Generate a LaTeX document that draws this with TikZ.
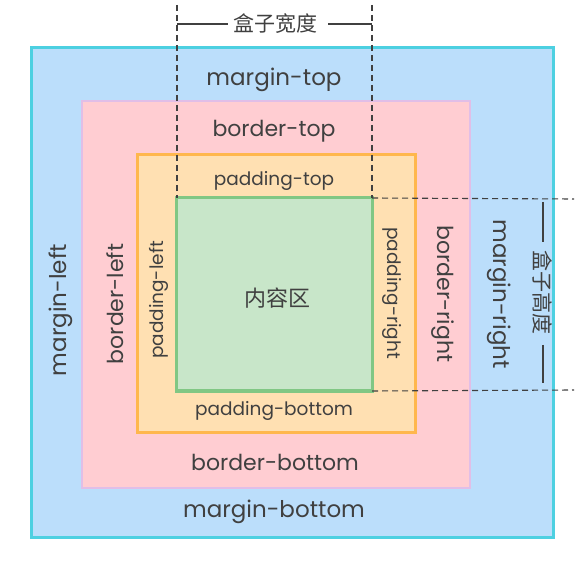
\documentclass[tikz,border=0pt]{standalone}
\usepackage{fontspec}
\setmainfont{Poppins}
\newfontfamily\cjk{Noto Sans CJK SC}
\definecolor{mBorder}{HTML}{4DD0E1}
\definecolor{mFill}{HTML}{BBDEFB}
\definecolor{bBorder}{HTML}{E1BEE7}
\definecolor{bFill}{HTML}{FFCDD2}
\definecolor{pBorder}{HTML}{FFB74D}
\definecolor{pFill}{HTML}{FFE0B2}
\definecolor{cBorder}{HTML}{81C784}
\definecolor{cFill}{HTML}{C8E6C9}
\definecolor{txt}{HTML}{404040}
\begin{document}
\begin{tikzpicture}[x=1pt,y=-1pt,
  layer/.style={anchor=north west, inner sep=0pt, outer sep=0pt, line width=3pt},
  lbl/.style={text=txt, inner sep=0pt},
  big/.style={lbl, font=\fontsize{23}{27}\selectfont},
  mid/.style={lbl, font=\fontsize{22}{26}\selectfont},
  small/.style={lbl, font=\fontsize{18.5}{22}\selectfont},
  cjklbl/.style={lbl, font=\cjk\fontsize{21}{25}\selectfont},
  cjkin/.style={lbl, font=\cjk\fontsize{22}{26}\selectfont},
  dimdash/.style={draw=txt, line width=1.1pt, dash pattern=on 6pt off 4pt},
  dimline/.style={draw=txt, line width=1.4pt}]
\useasboundingbox (0,0) rectangle (587,564);
% boxes
\node[layer, draw=mBorder, fill=mFill, minimum width=522pt, minimum height=489pt] (margin) at (31,48) {};
\node[layer, draw=bBorder, fill=bFill, minimum width=388pt, minimum height=387pt, line width=2.4pt] (border) at (82,101) {};
\node[layer, draw=pBorder, fill=pFill, minimum width=278pt, minimum height=277pt] (padding) at (137,155) {};
\node[layer, draw=cBorder, fill=cFill, minimum width=196pt, minimum height=193pt] (content) at (176,198) {};
% labels
\node[big] (mt) at (274,80) {margin-top};
\node[big] (mb) at (274,512) {margin-bottom};
\node[big, rotate=90] (ml) at (61,310) {margin-left};
\node[big, rotate=-90] (mr) at (499,294) {margin-right};
\node[mid] (bt) at (274,131) {border-top};
\node[mid] (bb) at (275,462) {border-bottom};
\node[mid, rotate=90] (bl) at (115,304) {border-left};
\node[mid, rotate=-90] (br) at (443,294) {border-right};
\node[small] (pt) at (274,181) {padding-top};
\node[small] (pb) at (274,411) {padding-bottom};
\node[small, rotate=90] (pl) at (159,300) {padding-left};
\node[small, rotate=-90] (pr) at (392,293) {padding-right};
\node[cjkin] (ct) at (277,298) {内容区};
% width dimension
\coordinate (wl) at (177,5);
\coordinate (wr) at (372,5);
\draw[dimdash] (wl) -- (wl|-content.north);
\draw[dimdash] (wr) -- (wr|-content.north);
\node[cjklbl, inner xsep=5pt] (wlab) at (275,24) {盒子宽度};
\draw[dimline] (wl|-wlab) -- (wlab.west);
\draw[dimline] (wlab.east) ++(6,0) -- (wr|-wlab);
% height dimension
\coordinate (ht) at (574,199);
\coordinate (hb) at (574,390);
\draw[dimdash] (content.north east) -- (ht);
\draw[dimdash] (content.south east) -- (hb);
\node[cjklbl, rotate=-90] (hlab) at (543,293) {盒子高度};
\coordinate (hl1) at (543,202);
\coordinate (hl2) at (543,242);
\coordinate (hl3) at (543,345);
\coordinate (hl4) at (543,383);
\draw[dimline, line width=2pt] (hl1) -- (hl2);
\draw[dimline, line width=2pt] (hl3) -- (hl4);
\end{tikzpicture}
\end{document}
